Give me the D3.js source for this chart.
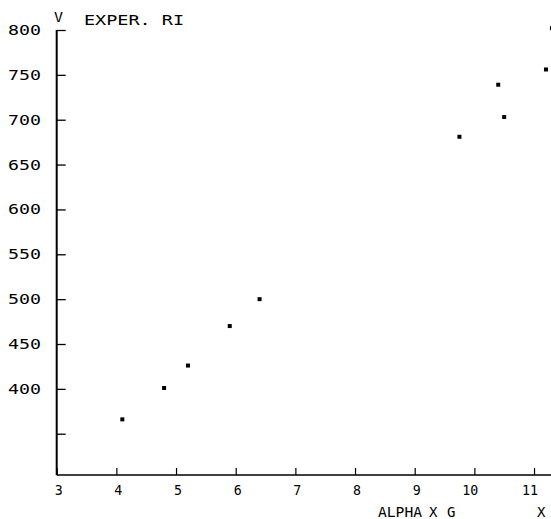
<!DOCTYPE html>
<html>
<head>
<meta charset="utf-8">
<script src="https://cdn.jsdelivr.net/npm/d3@7"></script>
<style>
  body { margin: 0; background: #fff; }
  svg text { font-family: "DejaVu Sans Mono", monospace; font-size: 14px; fill: #000; }
</style>
</head>
<body>
<script>
// measured values (alpha x G vs experimental RI)
var alphaG = [4.1, 4.8, 5.2, 5.9, 6.4, 9.75, 10.4, 10.5, 11.2, 11.3];
var ri = [366, 401, 426, 470, 500, 681, 739, 703, 756, 802];
var xTicks = [3, 4, 5, 6, 7, 8, 9, 10, 11];
var yTicks = [350, 400, 450, 500, 550, 600, 650, 700, 750, 800];
var yLabels = [400, 450, 500, 550, 600, 650, 700, 750, 800];

var width = 551, height = 519;

var svg = d3.select("body").append("svg")
    .attr("width", width)
    .attr("height", height);

var x = d3.scaleLinear().domain([3, 12]).range([56.7, 593.7]);
var y = d3.scaleLinear().domain([304, 800]).range([475, 30]);

// axes drawn plotter-style: ticks point inside the frame
var yAxis = svg.append("g").attr("transform", "translate(" + x(3) + ",0)")
    .call(d3.axisRight(y).tickValues(yTicks).tickSize(9).tickFormat(""));
yAxis.select(".domain").remove();
yAxis.selectAll("line").attr("stroke", "#000").attr("stroke-width", 1.3);
yAxis.append("line")
    .attr("y1", y(800)).attr("y2", y(304))
    .attr("stroke", "#000").attr("stroke-width", 2);

var xAxis = svg.append("g").attr("transform", "translate(0," + y(304) + ")")
    .call(d3.axisTop(x).tickValues(xTicks).tickSize(7).tickFormat(""));
xAxis.select(".domain").remove();
xAxis.selectAll("line").attr("stroke", "#000").attr("stroke-width", 1.2);
xAxis.append("line")
    .attr("x1", x(3)).attr("x2", width)
    .attr("stroke", "#000").attr("stroke-width", 1.6);

// tick labels (stretched to the wide plotter glyphs)
svg.selectAll(".ylab").data(yLabels).enter().append("text")
    .attr("class", "ylab")
    .attr("x", 8)
    .attr("y", function (d) { return y(d) + 5; })
    .attr("textLength", 33)
    .attr("lengthAdjust", "spacingAndGlyphs")
    .text(function (d) { return d; });

svg.selectAll(".xlab").data(xTicks).enter().append("text")
    .attr("class", "xlab")
    .attr("x", function (d) { return d < 10 ? x(d) - 2 : x(d) - 12; })
    .attr("y", 495)
    .attr("textLength", function (d) { return d < 10 ? 8 : 16; })
    .attr("lengthAdjust", "spacingAndGlyphs")
    .text(function (d) { return d; });

// titles
svg.append("text").attr("x", 54).attr("y", 22)
    .attr("textLength", 9).attr("lengthAdjust", "spacingAndGlyphs")
    .text("V");
svg.append("text").attr("x", 84).attr("y", 25)
    .attr("textLength", 100).attr("lengthAdjust", "spacingAndGlyphs")
    .text("EXPER. RI");
svg.append("text").attr("x", 378).attr("y", 517)
    .attr("textLength", 44).attr("lengthAdjust", "spacingAndGlyphs")
    .text("ALPHA");
svg.append("text").attr("x", 429).attr("y", 517).text("X");
svg.append("text").attr("x", 447).attr("y", 517).text("G");
svg.append("text").attr("x", 537).attr("y", 517).text("X");

// data points
svg.selectAll(".pt").data(alphaG).enter().append("rect")
    .attr("class", "pt")
    .attr("x", function (d) { return x(d) - 2; })
    .attr("y", function (d, i) { return y(ri[i]) - 2; })
    .attr("width", 4)
    .attr("height", 4)
    .attr("fill", "#000");
</script>
</body>
</html>
